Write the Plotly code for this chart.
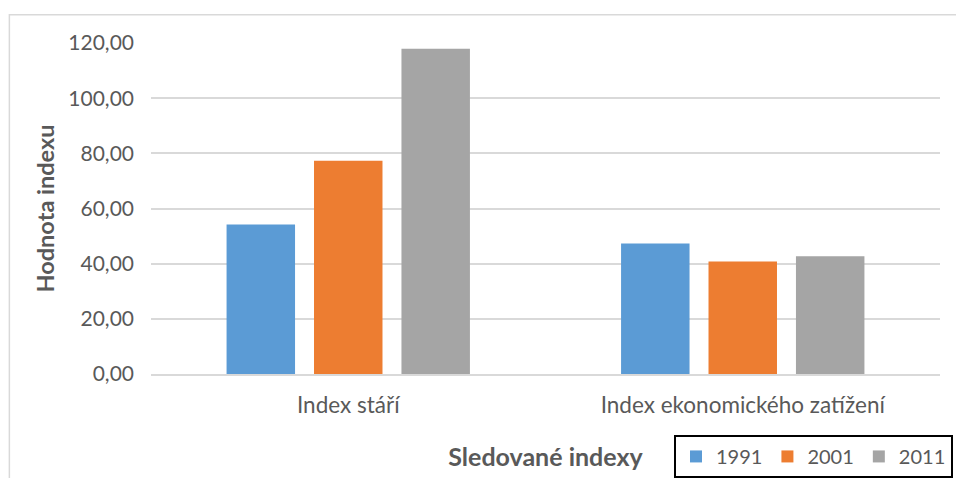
import plotly.graph_objects as go

categories = ["Index stáří", "Index ekonomického zatížení"]
years = ["1991", "2001", "2011"]
values_1991 = [54.2, 47.3]
values_2001 = [77.3, 40.8]
values_2011 = [117.9, 42.7]
colors = ["#5B9BD5", "#ED7D31", "#A5A5A5"]

FONT = "Lato, Open Sans, sans-serif"
TEXT = "#595959"

fig = go.Figure()
for year, vals, color in zip(years, [values_1991, values_2001, values_2011], colors):
    fig.add_trace(
        go.Bar(x=categories, y=vals, name=year, marker_color=color, marker_line_width=0)
    )

fig.update_layout(
    width=956,
    height=478,
    margin=dict(l=151, r=16, t=43, b=104, autoexpand=False),
    paper_bgcolor="white",
    plot_bgcolor="white",
    barmode="group",
    bargap=0.335,
    bargroupgap=0.217,
    separators=", ",
    font=dict(family=FONT, size=20, color=TEXT),
    showlegend=True,
    legend=dict(
        orientation="h",
        x=1.0165,
        xanchor="right",
        y=-0.314,
        yanchor="bottom",
        bordercolor="black",
        borderwidth=2,
        bgcolor="white",
        font=dict(size=20, color=TEXT),
        traceorder="normal",
        itemwidth=30,
    ),
)
fig.update_yaxes(
    range=[0, 120],
    dtick=20,
    tickformat=".2f",
    tickfont=dict(size=21),
    showgrid=True,
    gridcolor="#D9D9D9",
    gridwidth=1.5,
    zeroline=False,
    showline=False,
    automargin=False,
    ticklabelstandoff=16,
    title=dict(text="<b>Hodnota indexu</b>", font=dict(size=23.5, color=TEXT), standoff=7),
)
fig.update_xaxes(
    showgrid=False,
    showline=True,
    linecolor="#D9D9D9",
    linewidth=1.5,
    automargin=False,
    tickfont=dict(size=22.5),
    ticklabelstandoff=10,
    title=dict(text="<b>Sledované indexy</b>", font=dict(size=25, color=TEXT), standoff=32),
)
# outer chart frame
fig.add_shape(
    type="rect",
    xref="paper",
    yref="paper",
    x0=-0.1795,
    x1=1.03,
    y0=-0.33,
    y1=1.085,
    line=dict(color="#D9D9D9", width=1.5),
    layer="below",
)

# drop the default page margin so the figure sits at the window origin
fig.write_html(
    "out.html",
    config={"displayModeBar": False},
    post_script="document.body.style.margin='0px';",
)
